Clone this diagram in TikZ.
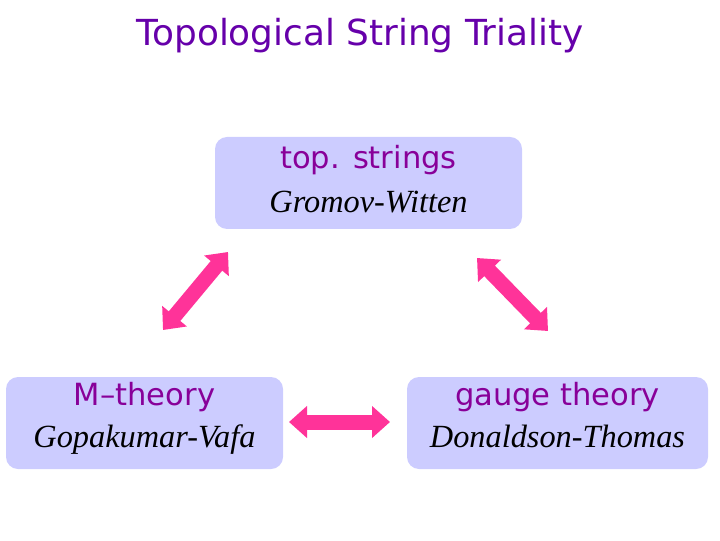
\documentclass[tikz,border=0pt]{standalone}
\usepackage{fontspec}
\setmainfont{Liberation Serif}
\setsansfont{DejaVu Sans}
\usetikzlibrary{arrows.meta}
\definecolor{violet}{HTML}{6600AA}
\definecolor{plum}{HTML}{880099}
\definecolor{lilac}{HTML}{CCCCFF}
\definecolor{rose}{HTML}{FF3399}

\begin{document}
\begin{tikzpicture}[
    title/.style={font=\sffamily\fontsize{10.2}{12}\selectfont, text=violet, anchor=base},
    theory/.style={font=\sffamily\fontsize{8.7}{10}\selectfont, text=plum, anchor=base},
    count/.style={font=\rmfamily\itshape\fontsize{9.2}{10}\selectfont, text=black, anchor=base},
    box/.style={fill=lilac, rounded corners=0.12cm, minimum height=0.92cm, inner sep=0pt},
    duality/.style={rose, line width=0.15cm, {Triangle[length=0.18cm,width=0.31cm]}-{Triangle[length=0.18cm,width=0.31cm]}}]
  % fixed 7.2 cm x 5.4 cm canvas
  \path[use as bounding box] (0,0) rectangle (7.2,5.4);

  % ================= title =================
  \node[title] (head) at (3.60,4.94) {Topological String Triality};

  % ================= three descriptions =================
  \node[box, minimum width=3.07cm] (top) at (3.685,3.57) {};
  \node[theory] (toplab) at (3.685,3.71) {top. strings};
  \node[count] (gw) at (3.685,3.27) {Gromov-Witten};

  \node[box, minimum width=2.77cm] (mth) at (1.445,1.17) {};
  \node[theory] (mthlab) at (1.445,1.35) {M–theory};
  \node[count] (gv) at (1.445,0.93) {Gopakumar-Vafa};

  \node[box, minimum width=3.01cm] (gauge) at (5.575,1.17) {};
  \node[theory] (gaugelab) at (5.575,1.35) {gauge theory};
  \node[count] (dt) at (5.575,0.93) {Donaldson-Thomas};

  % ================= dualities =================
  \coordinate (l1) at (1.63,2.10);  \coordinate (l2) at (2.28,2.88);
  \coordinate (r1) at (4.77,2.82);  \coordinate (r2) at (5.48,2.09);
  \coordinate (h1) at (2.89,1.18);  \coordinate (h2) at (3.90,1.18);
  \draw[duality] (l1) -- (l2);
  \draw[duality] (r1) -- (r2);
  \draw[duality] (h1) -- (h2);
\end{tikzpicture}
\end{document}
